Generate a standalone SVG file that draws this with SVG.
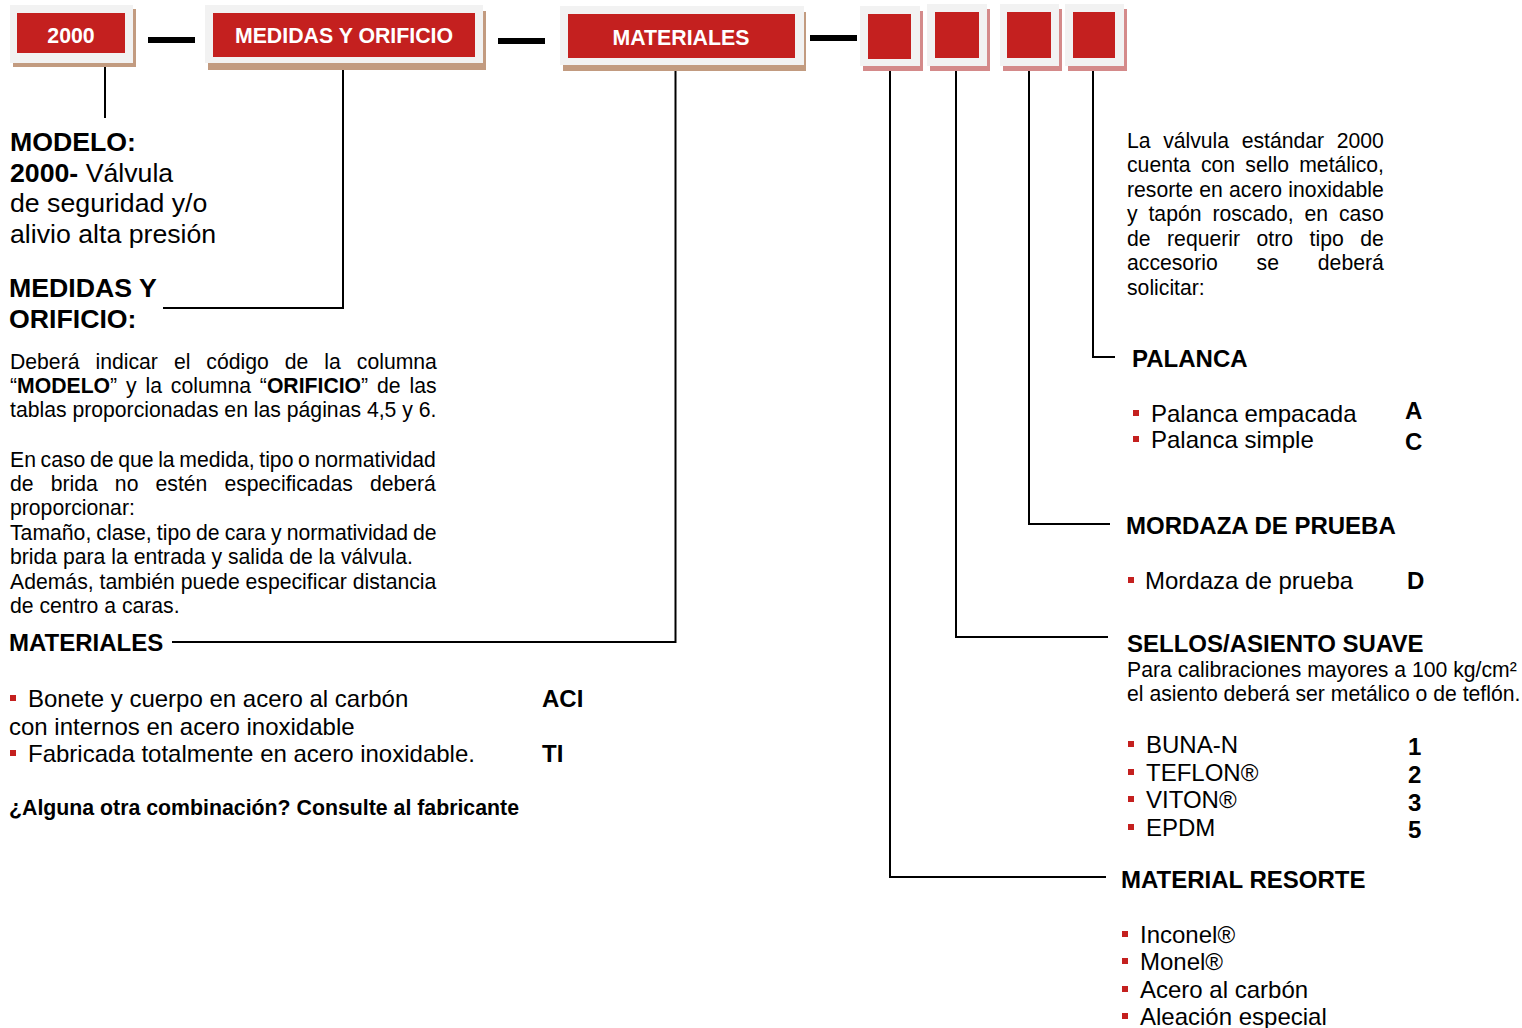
<svg xmlns="http://www.w3.org/2000/svg" width="1522" height="1028" viewBox="0 0 1522 1028">
<style>
.bg{fill:#f2f2f2}
.sh-tan{fill:#c29b80}
.sh-pink{fill:#d48a8a}
.red{fill:#c4201f}
.lbl{font-family:"Liberation Sans",Arial,sans-serif;font-weight:bold;font-size:21.3px;fill:#ffffff;text-anchor:middle}
.conn{stroke:#000;stroke-width:2;fill:none}
.dash{stroke:#000;stroke-width:6}
text{font-family:"Liberation Sans",Arial,sans-serif;fill:#000}
.h1{font-size:26.7px;font-weight:bold}
.big{font-size:26.7px}
.h2{font-size:24px;font-weight:bold}
.p{font-size:21.2px}
.li{font-size:24px}
.code{font-size:24px;font-weight:bold}
.bq{font-size:21.3px;font-weight:bold}
.b{font-weight:bold}
.bul{fill:#c4201f}
</style>
<defs>
<rect id="bullet" width="6" height="6" class="bul"/>
</defs>

<g id="node-2000">
<rect class="sh-tan" x="13" y="9" width="123" height="58"/>
<rect class="bg" x="10" y="5" width="123" height="58"/>
<rect class="red" x="17" y="13" width="108" height="40"/>
<text class="lbl" x="71" y="43" style="fill:#fff">2000</text>
</g>
<g id="node-medidas">
<rect class="sh-tan" x="208" y="11" width="278" height="59"/>
<rect class="bg" x="205" y="5" width="278" height="58"/>
<rect class="red" x="213" y="13" width="262" height="44"/>
<text class="lbl" x="344" y="43" style="fill:#fff">MEDIDAS Y ORIFICIO</text>
</g>
<g id="node-materiales">
<rect class="sh-tan" x="563" y="12" width="243" height="59"/>
<rect class="bg" x="560" y="6" width="244" height="59"/>
<rect class="red" x="568" y="14" width="227" height="44"/>
<text class="lbl" x="681" y="45" style="fill:#fff">MATERIALES</text>
</g>
<g id="node-resorte">
<rect class="sh-pink" x="863" y="11" width="60" height="60"/>
<rect class="bg" x="860" y="6" width="60" height="60"/>
<rect class="red" x="868" y="14" width="43" height="45"/>
</g>
<g id="node-sellos">
<rect class="sh-pink" x="930" y="9" width="60" height="62"/>
<rect class="bg" x="927" y="4" width="60" height="62"/>
<rect class="red" x="935" y="12" width="44" height="46"/>
</g>
<g id="node-mordaza">
<rect class="sh-pink" x="1003" y="9" width="59" height="62"/>
<rect class="bg" x="1000" y="4" width="59" height="62"/>
<rect class="red" x="1007" y="12" width="44" height="46"/>
</g>
<g id="node-palanca">
<rect class="sh-pink" x="1068" y="9" width="59" height="62"/>
<rect class="bg" x="1065" y="4" width="59" height="62"/>
<rect class="red" x="1073" y="12" width="42" height="46"/>
</g>

<g id="connectors">
<line class="dash" x1="148" y1="40" x2="195" y2="40"/>
<line class="dash" x1="498" y1="41" x2="545" y2="41"/>
<line class="dash" x1="810" y1="38" x2="857" y2="38"/>
<path class="conn" d="M105 67 V118"/>
<path class="conn" d="M343 70 V308 H163"/>
<path class="conn" d="M675.5 71 V642 H172"/>
<path class="conn" d="M890 71 V877 H1106"/>
<path class="conn" d="M956 71 V637 H1108"/>
<path class="conn" d="M1029 71 V524 H1110"/>
<path class="conn" d="M1093 71 V357 H1115"/>
</g>

<g id="modelo-text">
<text class="h1" x="10" y="151">MODELO:</text>
<text class="big" x="10" y="182"><tspan class="b">2000-</tspan> Válvula</text>
<text class="big" x="10" y="212">de seguridad y/o</text>
<text class="big" x="10" y="243">alivio alta presión</text>
</g>

<g id="medidas-text">
<text class="h1" x="9" y="297">MEDIDAS Y</text>
<text class="h1" x="9" y="328">ORIFICIO:</text>
<text class="p" x="10" y="369" word-spacing="10.1">Deberá indicar el código de la columna</text>
<text class="p" x="10" y="393" word-spacing="3">“<tspan class="b">MODELO</tspan>” y la columna “<tspan class="b">ORIFICIO</tspan>” de las</text>
<text class="p" x="10" y="417">tablas proporcionadas en las páginas 4,5 y 6.</text>
<text class="p" x="10" y="467" word-spacing="-1.25">En caso de que la medida, tipo o normatividad</text>
<text class="p" x="10" y="491" word-spacing="11.2">de brida no estén especificadas deberá</text>
<text class="p" x="10" y="515">proporcionar:</text>
<text class="p" x="10" y="540" word-spacing="-0.8">Tamaño, clase, tipo de cara y normatividad de</text>
<text class="p" x="10" y="564">brida para la entrada y salida de la válvula.</text>
<text class="p" x="10" y="589">Además, también puede especificar distancia</text>
<text class="p" x="10" y="613">de centro a caras.</text>
</g>

<g id="materiales-text">
<text class="h2" x="9" y="651">MATERIALES</text>
<use href="#bullet" x="10" y="695"/>
<text class="li" x="28" y="707">Bonete y cuerpo en acero al carbón</text>
<text class="code" x="542" y="707">ACI</text>
<text class="li" x="9" y="735">con internos en acero inoxidable</text>
<use href="#bullet" x="10" y="750"/>
<text class="li" x="28" y="762">Fabricada totalmente en acero inoxidable.</text>
<text class="code" x="542" y="762">TI</text>
<text class="bq" x="9" y="815">¿Alguna otra combinación? Consulte al fabricante</text>
</g>

<g id="nota-text">
<text class="p" x="1127" y="148" word-spacing="6.7">La válvula estándar 2000</text>
<text class="p" x="1127" y="172" word-spacing="4.4">cuenta con sello metálico,</text>
<text class="p" x="1127" y="197" word-spacing="0.4">resorte en acero inoxidable</text>
<text class="p" x="1127" y="221" word-spacing="5">y tapón roscado, en caso</text>
<text class="p" x="1127" y="246" word-spacing="10.6">de requerir otro tipo de</text>
<text class="p" x="1127" y="270" word-spacing="33">accesorio se deberá</text>
<text class="p" x="1127" y="295">solicitar:</text>
</g>

<g id="palanca-text">
<text class="h2" x="1132" y="367">PALANCA</text>
<use href="#bullet" x="1133" y="410"/>
<text class="li" x="1151" y="422">Palanca empacada</text>
<text class="code" x="1405" y="419">A</text>
<use href="#bullet" x="1133" y="436"/>
<text class="li" x="1151" y="448">Palanca simple</text>
<text class="code" x="1405" y="450">C</text>
</g>

<g id="mordaza-text">
<text class="h2" x="1126" y="534">MORDAZA DE PRUEBA</text>
<use href="#bullet" x="1128" y="577"/>
<text class="li" x="1145" y="589">Mordaza de prueba</text>
<text class="code" x="1407" y="589">D</text>
</g>

<g id="sellos-text">
<text class="h2" x="1127" y="652">SELLOS/ASIENTO SUAVE</text>
<text class="p" x="1127" y="677">Para calibraciones mayores a 100 kg/cm²</text>
<text class="p" x="1127" y="701">el asiento deberá ser metálico o de teflón.</text>
<use href="#bullet" x="1128" y="741"/>
<text class="li" x="1146" y="753">BUNA-N</text>
<text class="code" x="1408" y="755">1</text>
<use href="#bullet" x="1128" y="769"/>
<text class="li" x="1146" y="781">TEFLON®</text>
<text class="code" x="1408" y="783">2</text>
<use href="#bullet" x="1128" y="796"/>
<text class="li" x="1146" y="808">VITON®</text>
<text class="code" x="1408" y="811">3</text>
<use href="#bullet" x="1128" y="824"/>
<text class="li" x="1146" y="836">EPDM</text>
<text class="code" x="1408" y="838">5</text>
</g>

<g id="resorte-text">
<text class="h2" x="1121" y="888">MATERIAL RESORTE</text>
<use href="#bullet" x="1122" y="931"/>
<text class="li" x="1140" y="943">Inconel®</text>
<use href="#bullet" x="1122" y="958"/>
<text class="li" x="1140" y="970">Monel®</text>
<use href="#bullet" x="1122" y="986"/>
<text class="li" x="1140" y="998">Acero al carbón</text>
<use href="#bullet" x="1122" y="1013"/>
<text class="li" x="1140" y="1025">Aleación especial</text>
</g>
</svg>
